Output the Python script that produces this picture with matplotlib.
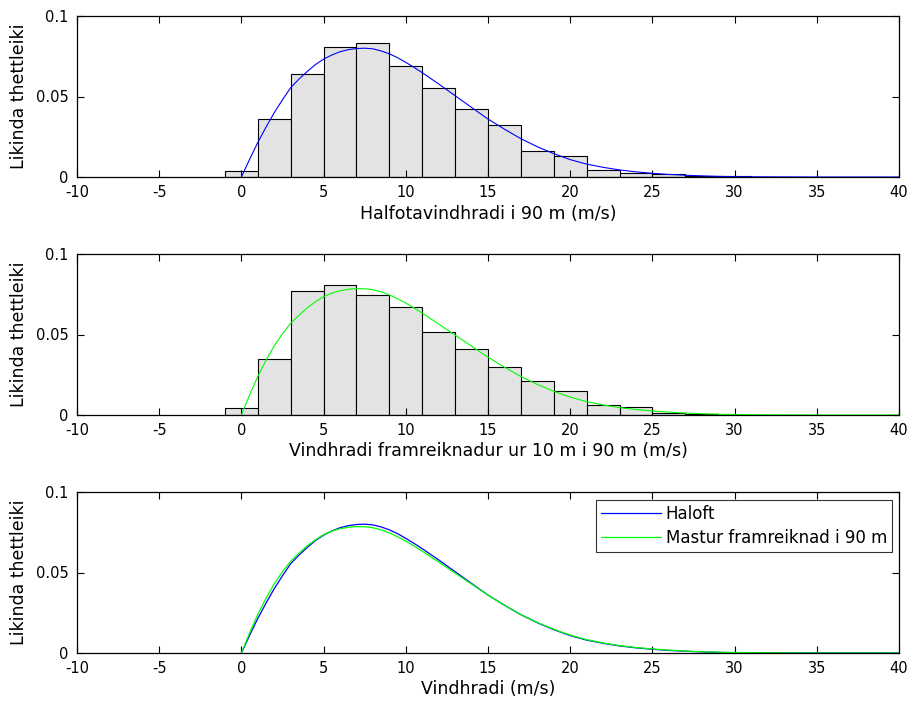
import matplotlib
matplotlib.use("Agg")
import matplotlib.pyplot as plt
import numpy as np

plt.rcParams["axes.unicode_minus"] = False

# histogram bins (centres, width 2)
bin_centres = np.arange(0, 32, 2)
hist_haloft = [0.004, 0.036, 0.064, 0.0807, 0.083, 0.069, 0.0555, 0.042, 0.032,
               0.016, 0.0132, 0.0043, 0.0027, 0.002, 0.0008, 0.0006]
hist_mastur = [0.0043, 0.035, 0.077, 0.0806, 0.0746, 0.067, 0.0518, 0.041, 0.030,
               0.0213, 0.0147, 0.006, 0.005, 0.0015, 0.0008, 0.0]

# fitted curves
curve_x = [0, 0.5, 1, 1.5, 2, 2.5, 3, 3.5, 4, 4.5, 5, 5.5, 6, 6.5, 7, 7.5, 8,
           8.5, 9, 9.5, 10, 10.5, 11, 12, 13, 14, 15, 16, 17, 18, 19, 20, 21,
           22, 23, 24, 25, 26, 27, 28, 29, 30, 32, 35, 40]
curve_haloft = [0, 0.011, 0.0215, 0.031, 0.040, 0.048, 0.0555, 0.0608, 0.0655,
                0.0698, 0.0732, 0.0758, 0.0778, 0.0791, 0.0798, 0.0800, 0.0796,
                0.0783, 0.0765, 0.0741, 0.0712, 0.0681, 0.0648, 0.0578, 0.0505,
                0.0432, 0.0360, 0.0297, 0.0238, 0.0188, 0.0145, 0.0108, 0.0080,
                0.0060, 0.0044, 0.0032, 0.0023, 0.0016, 0.0011, 0.0007, 0.0004,
                0.0002, 0.0001, 0.0, 0.0]
curve_mastur = [0, 0.0125, 0.024, 0.034, 0.043, 0.0505, 0.057, 0.062, 0.0665,
                0.0703, 0.0735, 0.0757, 0.0772, 0.0781, 0.0785, 0.0784, 0.0778,
                0.0765, 0.0746, 0.0722, 0.0695, 0.0665, 0.0633, 0.0565, 0.0496,
                0.0428, 0.0359, 0.0297, 0.0239, 0.0190, 0.0147, 0.0111, 0.0083,
                0.0062, 0.0046, 0.0034, 0.0025, 0.0018, 0.0012, 0.0008, 0.0005,
                0.0003, 0.0001, 0.0, 0.0]

ylab = "Likinda thettleiki"
xlabels = ["Halfotavindhradi i 90 m (m/s)",
           "Vindhradi framreiknadur ur 10 m i 90 m (m/s)",
           "Vindhradi (m/s)"]

fig = plt.figure(figsize=(9.11, 7.06), dpi=100)
left, width, height = 77 / 911, 822 / 911, 161 / 706
bottoms = [1 - 177 / 706, 1 - 415 / 706, 1 - 653 / 706]
axes = [fig.add_axes([left, b, width, height]) for b in bottoms]


def style(ax, xlabel):
    ax.set_xlim(-10, 40)
    ax.set_ylim(0, 0.1)
    ax.set_xticks(range(-10, 41, 5))
    ax.set_yticks([0, 0.05, 0.1])
    ax.set_yticklabels(["0", "0.05", "0.1"])
    ax.tick_params(direction="in", top=True, right=True, length=5,
                   labelsize=10.5, width=0.8, pad=6)
    for s in ax.spines.values():
        s.set_linewidth(0.9)
    ax.set_ylabel(ylab, fontsize=12.5, labelpad=6)
    ax.set_xlabel(xlabel, fontsize=12.5, labelpad=3)


ax = axes[0]
ax.bar(bin_centres, hist_haloft, width=2, color="#e3e3e3", edgecolor="black",
       linewidth=0.8)
ax.plot(curve_x, curve_haloft, color="blue", lw=0.8)
style(ax, xlabels[0])

ax = axes[1]
ax.bar(bin_centres, hist_mastur, width=2, color="#e3e3e3", edgecolor="black",
       linewidth=0.8)
ax.plot(curve_x, curve_mastur, color="#00ff00", lw=0.8)
style(ax, xlabels[1])

ax = axes[2]
ax.plot(curve_x, curve_haloft, color="blue", lw=0.9, label="Haloft")
ax.plot(curve_x, curve_mastur, color="#00ff00", lw=0.9,
        label="Mastur framreiknad i 90 m")
style(ax, xlabels[2])
leg = ax.legend(loc="upper right", bbox_to_anchor=(1 - 7 / 822, 1 - 8 / 161),
                borderaxespad=0, fancybox=False, edgecolor="black",
                fontsize=12, handlelength=3.6, handletextpad=0.3,
                labelspacing=0.35, borderpad=0.3)
leg.get_frame().set_linewidth(0.8)

fig.savefig("out.png", dpi=100)
